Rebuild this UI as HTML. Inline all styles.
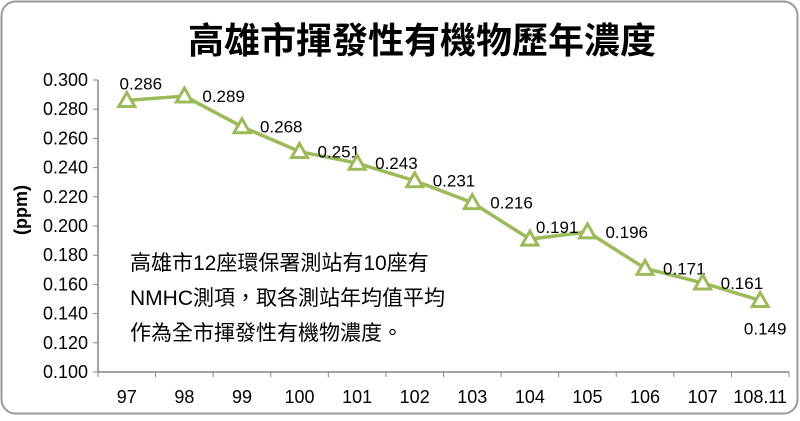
<!DOCTYPE html>
<html><head><meta charset="utf-8"><style>
body{margin:0;background:#fff;}
svg text{font-family:"Liberation Sans","Noto Sans CJK TC",sans-serif;}
</style></head><body>
<svg width="800" height="416" viewBox="0 0 800 416">
<rect x="1.5" y="1.5" width="796" height="412" rx="14" fill="#fff" stroke="#9a9a9a" stroke-width="2"/>
<text x="422" y="53" font-size="36" font-weight="bold" text-anchor="middle" fill="#000">高雄市揮發性有機物歷年濃度</text>
<text transform="translate(27,210) rotate(-90)" font-size="18" font-weight="bold" text-anchor="middle">(ppm)</text>
<g font-size="21" fill="#000">
<text x="130" y="270">高雄市12座環保署測站有10座有</text>
<text x="130" y="305">NMHC測項，取各測站年均值平均</text>
<text x="130" y="340">作為全市揮發性有機物濃度。</text>
</g>
<g id="axes"></g>
<g id="marks"></g>
</svg>
<script>
const categories=["97","98","99","100","101","102","103","104","105","106","107","108.11"];
const values=[0.286,0.289,0.268,0.251,0.243,0.231,0.216,0.191,0.196,0.171,0.161,0.149];
const yTicks=[0.100,0.120,0.140,0.160,0.180,0.200,0.220,0.240,0.260,0.280,0.300];
const NS="http://www.w3.org/2000/svg";
const x0=98,x1=789,yTop=80,yBot=372,yMin=0.1,yMax=0.3;
const band=(x1-x0)/categories.length;
function xs(i){return x0+band*(i+0.5);}
function ys(v){return yBot-(v-yMin)/(yMax-yMin)*(yBot-yTop);}
function mk(tag,attrs,parent){const e=document.createElementNS(NS,tag);for(const k in attrs)e.setAttribute(k,attrs[k]);parent.appendChild(e);return e;}
const ax=document.getElementById('axes'),mg=document.getElementById('marks');
let e=mk('line',{x1:x0,y1:yTop,x2:x0,y2:yBot,stroke:'#868686','stroke-width':1.5},ax);


e=mk('line',{x1:x0,y1:yBot,x2:x1,y2:yBot,stroke:'#868686','stroke-width':1.5},ax);


yTicks.forEach(t=>{const y=ys(t);
 mk('line',{x1:x0-5,y1:y,x2:x0,y2:y,stroke:'#868686'},ax);
 const tx=mk('text',{x:x0-10,y:y+6,'font-size':18,'text-anchor':'end'},ax);tx.textContent=t.toFixed(3);
 
 
});
for(let i=0;i<=categories.length;i++){const x=x0+band*i;mk('line',{x1:x,y1:yBot,x2:x,y2:yBot+5,stroke:'#868686'},ax);}
categories.forEach((c,i)=>{const tx=mk('text',{x:xs(i),y:yBot+31,'font-size':18,'text-anchor':'middle'},ax);tx.textContent=c;
 
 
});
const pts=values.map((v,i)=>xs(i)+','+ys(v)).join(' ');
e=mk('polyline',{points:pts,fill:'none',stroke:'#9bbb59','stroke-width':3.5,'stroke-linejoin':'round'},mg);


values.forEach((v,i)=>{const x=xs(i),y=ys(v);
 const p=mk('polygon',{points:`${x},${y-8} ${x-8},${y+6} ${x+8},${y+6}`,fill:'#fff',stroke:'#9bbb59','stroke-width':3},mg);
 
 
 let lx=x+18,ly=y+6,anc='start';
 if(i===0){lx=x+14;ly=y-11;anc='middle';}
 if(i===7){lx=x+6;ly=y-6;}
 if(i===values.length-1){lx=x+5;ly=y+34;anc='middle';}
 const t=mk('text',{x:lx,y:ly,'font-size':17,'text-anchor':anc},mg);t.textContent=v.toFixed(3);
 
 
});
</script>
</body></html>
